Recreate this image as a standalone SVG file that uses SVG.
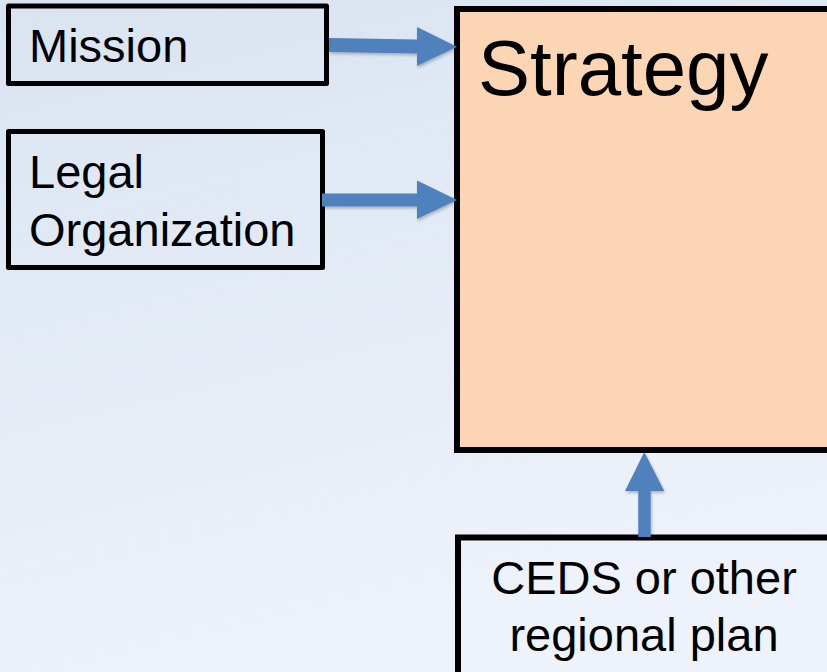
<svg xmlns="http://www.w3.org/2000/svg" width="827" height="672" viewBox="0 0 827 672">
  <defs>
    <linearGradient id="bg" x1="0" y1="0" x2="0.3" y2="1">
      <stop offset="0" stop-color="#d9e4f1"/>
      <stop offset="1" stop-color="#eef2fa"/>
    </linearGradient>
    <filter id="shadow" x="-20%" y="-20%" width="140%" height="140%">
      <feDropShadow dx="1" dy="2" stdDeviation="1.5" flood-color="#000" flood-opacity="0.25"/>
    </filter>
    <style>
      .box { fill: none; stroke: #000; stroke-width: 5; stroke-linejoin: round; }
      .label { font-family: "Liberation Sans", Arial, sans-serif; font-size: 47px; fill: #000; }
      .arrow { fill: #4f81bd; filter: url(#shadow); }
    </style>
  </defs>

  <!-- background -->
  <rect x="0" y="0" width="827" height="672" fill="url(#bg)"/>

  <g id="strategy">
    <rect x="457" y="9" width="400" height="441" fill="#fcd5b5" stroke="#000" stroke-width="6"/>
    <text x="478" y="95" class="label" style="font-size:78px">Strategy</text>
  </g>

  <g id="mission">
    <rect class="box" x="8.5" y="6" width="318" height="77.5"/>
    <text x="29" y="62" class="label">Mission</text>
  </g>

  <g id="legal">
    <rect class="box" x="8.5" y="131.5" width="314" height="136"/>
    <text class="label"><tspan x="29" y="188">Legal</tspan><tspan x="29" y="246">Organization</tspan></text>
  </g>

  <g id="ceds">
    <rect x="458" y="537.5" width="380" height="150" fill="none" stroke="#000" stroke-width="6"/>
    <text class="label" text-anchor="middle"><tspan x="644" y="594">CEDS or other</tspan><tspan x="644" y="651">regional plan</tspan></text>
  </g>

  <g id="connectors">
    <path class="arrow" d="M329,38 L417,39.5 L417,27 L457,46.7 L417,66 L417,53.5 L329,52 Z"/>
    <path class="arrow" d="M322,193.5 L417,193.5 L417,180.5 L457,200 L417,219 L417,206.5 L322,206.5 Z"/>
    <path class="arrow" d="M638.3,537 L638.3,491 L625,491 L644.3,452 L664.3,491 L650.7,491 L650.7,537 Z"/>
  </g>
</svg>
